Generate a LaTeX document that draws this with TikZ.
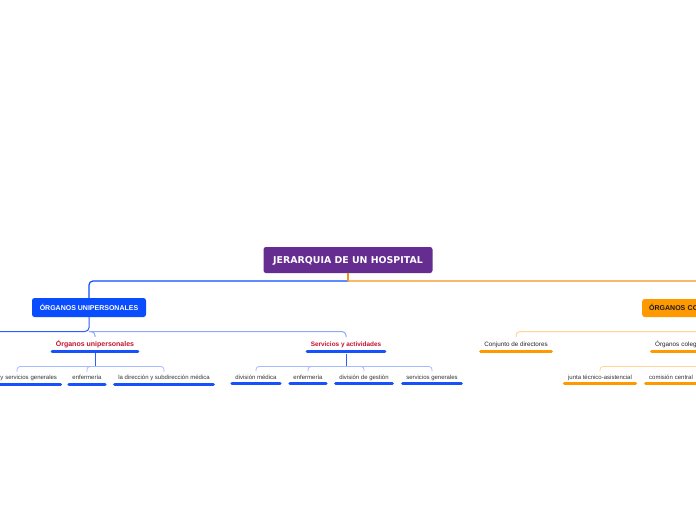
\documentclass[tikz,border=0pt]{standalone}
\usepackage{fontspec}
\setmainfont{Liberation Sans}
\newfontfamily\titlefont{DejaVu Sans}
\usetikzlibrary{calc}
\definecolor{purp}{HTML}{662D91}
\definecolor{bl}{HTML}{0A4DFF}
\definecolor{blline}{HTML}{2E5EFF}
\definecolor{bllight}{HTML}{8EA8FF}
\definecolor{blrail}{HTML}{A6BAFF}
\definecolor{blbar}{HTML}{1650FF}
\definecolor{og}{HTML}{FF9900}
\definecolor{ogline}{HTML}{F7941D}
\definecolor{oglight}{HTML}{FFD596}
\definecolor{redtxt}{HTML}{C4122F}
\definecolor{txt}{HTML}{333333}
\begin{document}
\begin{tikzpicture}[x=1pt,y=-1pt,
  box/.style={rounded corners=2.5pt, inner sep=0pt, text height=5.1pt, text depth=0pt,
              font=\fontsize{7}{8}\selectfont\bfseries},
  lvltwo/.style={inner xsep=5pt, inner ysep=0pt, minimum height=12pt, text height=6.5pt, text depth=0pt},
  lvlthree/.style={inner xsep=5pt, inner ysep=0pt, minimum height=10pt, text height=5.5pt, text depth=0.3pt,
                   text=txt, font=\fontsize{6}{7}\selectfont},
  bbar/.style={draw=blbar, line width=3pt, line cap=round},
  obar/.style={draw=og, line width=3pt, line cap=round},
  conn/.style={rounded corners=4pt, line width=1.2pt},
  conntwo/.style={rounded corners=4pt, line width=1pt},
  connthree/.style={rounded corners=3pt, line width=0.8pt}]
\useasboundingbox (0,0) rectangle (696,520);
\clip (0,0) rectangle (696,520);
\fill[white] (0,0) rectangle (696,520);
% rails
\coordinate (r1) at (0,281);
\coordinate (r2) at (0,331.5);
\coordinate (r3) at (0,366.5);
\coordinate (offL) at (-10,331.5);
% main nodes
\node[box, fill=purp, text=white, minimum width=169pt, minimum height=26pt, text height=6.9pt,
      font=\titlefont\fontsize{9.4}{10}\selectfont\bfseries] (T) at (348,260) {JERARQUIA DE UN HOSPITAL};
\node[box, fill=bl, text=white, minimum width=114pt, minimum height=19pt] (U) at (89,307.5) {ÓRGANOS UNIPERSONALES};
\node[box, fill=og, text=black!90, anchor=west, inner xsep=7pt, text width=106pt, align=left,
      minimum height=18pt] (C) at (642,308) {ÓRGANOS COLEGIADOS};
% level 2
\node[lvltwo, text=redtxt, font=\fontsize{7}{8}\selectfont\bfseries] (ou) at (95,343) {Órganos unipersonales};
\node[lvltwo, text=redtxt, font=\fontsize{6.4}{7}\selectfont\bfseries] (sa) at (346,343.5) {Servicios y actividades};
\node[lvltwo, text=black!85, font=\fontsize{6.3}{7}\selectfont] (cd) at (516,343) {Conjunto de directores};
\node[lvltwo, text=black!85, font=\fontsize{6.3}{7}\selectfont, anchor=west, text width=110pt, align=left] (oc) at (650,343) {Órganos colegiados};
% level 3
\node[lvlthree, text width=80pt, align=right] (ysg) at (17,377) {y servicios generales};
\node[lvlthree] (enf1) at (87,377) {enfermería};
\node[lvlthree] (ldsm) at (164,377) {la dirección y subdirección médica};
\node[lvlthree] (dm) at (256,376.5) {división médica};
\node[lvlthree] (enf2) at (308,376.5) {enfermería};
\node[lvlthree] (dg) at (364,376.5) {división de gestión};
\node[lvlthree] (sg) at (432,376.5) {servicios generales};
\node[lvlthree] (jta) at (600,376.5) {junta técnico-asistencial};
\node[lvlthree, anchor=west, text width=110pt, align=left] (cc) at (644,376.5) {comisión central};
% bars
\foreach \n in {ou,sa}{\draw[bbar] ([xshift=1.5pt,yshift=-8pt]\n.west) -- ([xshift=-1.5pt,yshift=-8pt]\n.east);}
\foreach \n in {cd,oc}{\draw[obar] ([xshift=1.5pt,yshift=-8pt]\n.west) -- ([xshift=-1.5pt,yshift=-8pt]\n.east);}
\foreach \n in {ysg,enf1,ldsm,dm,enf2,dg,sg}{\draw[bbar] ([xshift=1.5pt,yshift=-7pt]\n.west) -- ([xshift=-1.5pt,yshift=-7pt]\n.east);}
\foreach \n in {jta,cc}{\draw[obar] ([xshift=1.5pt,yshift=-7pt]\n.west) -- ([xshift=-1.5pt,yshift=-7pt]\n.east);}
% level 1 connectors
\draw[conn, draw=bl] (T.south|-r1) -| (U.north);
\draw[conn, draw=ogline] (T.south|-r1) -| (C.north);
\draw[line width=1.2pt, draw=ogline] (T.south) -- (T.south|-r1);
% level 2 connectors
\draw[conntwo, draw=blline] (U.south) -- (U.south|-r2) -- (offL);
\draw[conntwo, draw=bllight] (U.south|-r2) -| (ou.north);
\draw[conntwo, draw=bllight] (U.south|-r2) -| (sa.north);
\draw[conntwo, draw=oglight] (C.south) -- (C.south|-r2) -| (cd.north);
% level 3 connectors
\draw[line width=1pt, draw=blline] ([yshift=-9.5pt]ou.center) -- (ou.center|-r3);
\foreach \c in {ysg,enf1,ldsm}{\draw[connthree, draw=blrail] (ou.center|-r3) -| (\c.north);}
\draw[line width=1pt, draw=blline] ([yshift=-10pt]sa.center) -- (sa.center|-r3);
\foreach \c in {dm,enf2,dg,sg}{\draw[connthree, draw=blrail] (sa.center|-r3) -| (\c.north);}
\draw[line width=1pt, draw=og] ([yshift=-9.5pt]oc.center) -- (oc.center|-r3);
\draw[connthree, draw=oglight] (oc.center|-r3) -| (jta.north);
\end{tikzpicture}
\end{document}
